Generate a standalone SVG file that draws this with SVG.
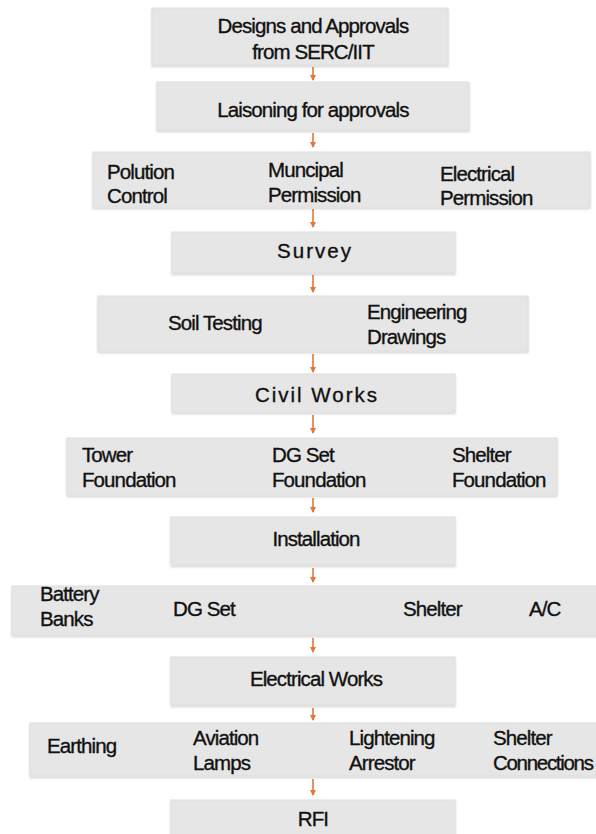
<svg xmlns="http://www.w3.org/2000/svg" width="596" height="834" viewBox="0 0 596 834">
<defs>
<marker id="ah" markerWidth="6" markerHeight="6" refX="5" refY="3" orient="auto" markerUnits="userSpaceOnUse">
<path d="M0,0 L6,3 L0,6 Z" fill="#e0783a"/>
</marker>
<filter id="sh" x="-5%" y="-10%" width="110%" height="130%">
<feDropShadow dx="0" dy="1.5" stdDeviation="1" flood-color="#000" flood-opacity="0.18"/>
</filter>
</defs>
<style>
.box{fill:#e6e6e6;stroke:#dedede;stroke-width:1;filter:url(#sh)}
.t{font-family:"Liberation Sans",Arial,sans-serif;font-size:20.5px;letter-spacing:-0.9px;fill:#111;stroke:#111;stroke-width:0.35px}
.c{text-anchor:middle}
.w{letter-spacing:2px}
.arr{stroke:#e0783a;stroke-width:1.6;fill:none;marker-end:url(#ah)}
</style>
<rect width="596" height="834" fill="#ffffff"/>
<g id="connectors">
<line class="arr" x1="313" y1="67" x2="313" y2="80"/>
<line class="arr" x1="313" y1="133" x2="313" y2="147"/>
<line class="arr" x1="313" y1="209" x2="313" y2="227"/>
<line class="arr" x1="313" y1="275" x2="313" y2="292"/>
<line class="arr" x1="313" y1="354" x2="313" y2="372"/>
<line class="arr" x1="313" y1="415" x2="313" y2="433"/>
<line class="arr" x1="313" y1="498" x2="313" y2="512"/>
<line class="arr" x1="313" y1="568" x2="313" y2="582"/>
<line class="arr" x1="313" y1="638" x2="313" y2="652"/>
<line class="arr" x1="313" y1="708" x2="313" y2="720"/>
<line class="arr" x1="313" y1="779" x2="313" y2="795"/>
</g>
<g id="n1">
<rect class="box" x="152" y="8" width="296" height="57"/>
<text class="t c" x="313" y="33">Designs and Approvals</text>
<text class="t c" x="313" y="59">from SERC/IIT</text>
</g>
<g id="n2">
<rect class="box" x="157" y="82" width="312" height="48"/>
<text class="t c" x="313" y="117">Laisoning for approvals</text>
</g>
<g id="n3">
<rect class="box" x="93" y="152" width="497" height="55"/>
<text class="t" x="107" y="179">Polution</text>
<text class="t" x="107" y="203">Control</text>
<text class="t" x="268" y="177">Muncipal</text>
<text class="t" x="268" y="202">Permission</text>
<text class="t" x="440" y="181">Electrical</text>
<text class="t" x="440" y="205">Permission</text>
</g>
<g id="n4">
<rect class="box" x="172" y="232" width="283" height="41"/>
<text class="t c w" x="315" y="258">Survey</text>
</g>
<g id="n5">
<rect class="box" x="98" y="296" width="430" height="55"/>
<text class="t" x="168" y="330">Soil Testing</text>
<text class="t" x="367" y="319">Engineering</text>
<text class="t" x="367" y="344">Drawings</text>
</g>
<g id="n6">
<rect class="box" x="172" y="374" width="283" height="38"/>
<text class="t c w" x="317" y="402">Civil Works</text>
</g>
<g id="n7">
<rect class="box" x="67" y="438" width="490" height="57"/>
<text class="t" x="82" y="462">Tower</text>
<text class="t" x="82" y="487">Foundation</text>
<text class="t" x="272" y="462">DG Set</text>
<text class="t" x="272" y="487">Foundation</text>
<text class="t" x="452" y="462">Shelter</text>
<text class="t" x="452" y="487">Foundation</text>
</g>
<g id="n8">
<rect class="box" x="171" y="517" width="284" height="48"/>
<text class="t c" x="316" y="546">Installation</text>
</g>
<g id="n9">
<rect class="box" x="12" y="586" width="590" height="49"/>
<text class="t" x="40" y="601">Battery</text>
<text class="t" x="40" y="626">Banks</text>
<text class="t" x="173" y="616">DG Set</text>
<text class="t" x="403" y="616">Shelter</text>
<text class="t" x="529" y="616">A/C</text>
</g>
<g id="n10">
<rect class="box" x="171" y="657" width="284" height="48"/>
<text class="t c" x="316" y="686">Electrical Works</text>
</g>
<g id="n11">
<rect class="box" x="30" y="723" width="572" height="53"/>
<text class="t" x="47" y="753">Earthing</text>
<text class="t" x="193" y="745">Aviation</text>
<text class="t" x="193" y="770">Lamps</text>
<text class="t" x="349" y="745">Lightening</text>
<text class="t" x="349" y="770">Arrestor</text>
<text class="t" x="493" y="745">Shelter</text>
<text class="t" x="493" y="770" style="letter-spacing:-1.3px">Connections</text>
</g>
<g id="n12">
<rect class="box" x="171" y="800" width="284" height="40"/>
<text class="t c" x="313" y="826">RFI</text>
</g>
</svg>
